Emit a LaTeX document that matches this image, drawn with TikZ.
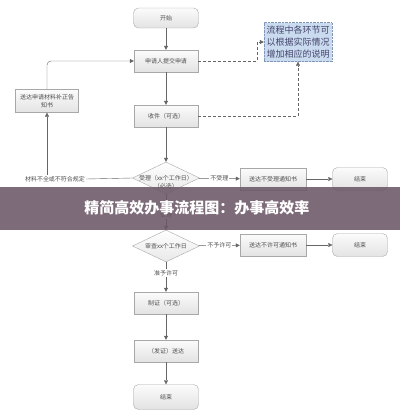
\documentclass[tikz,border=0pt]{standalone}
\usepackage{fontspec}
\setmainfont{Noto Sans CJK SC}
\usetikzlibrary{arrows.meta,shapes.geometric}
\definecolor{edge}{HTML}{666666}
\definecolor{rim}{HTML}{A8A8A8}
\definecolor{ink}{HTML}{505050}
\definecolor{notefill}{HTML}{CADBF0}
\definecolor{noterim}{HTML}{8096B4}
\definecolor{band}{HTML}{6B5766}

\begin{document}
\begin{tikzpicture}[x=1pt,y=-1pt,
	box/.style={draw=rim,top color=white!97!gray,bottom color=gray!22,minimum width=64pt,minimum height=22pt,inner sep=1pt,font=\fontsize{6}{8}\selectfont,text=ink,align=center},
	term/.style={box,rounded corners=5pt,minimum width=55pt,minimum height=23pt},
	decide/.style={diamond,draw=rim,top color=white,bottom color=gray!18,minimum width=67pt,minimum height=32pt,inner sep=0pt,aspect=2.1},
	lbl/.style={font=\fontsize{6}{8}\selectfont,text=ink,fill=white,inner sep=1pt,align=center},
	arr/.style={draw=edge,-{Triangle[length=4pt,width=4pt]}},
	hint/.style={arr,dash pattern=on 3pt off 2pt}]
	\useasboundingbox (0,0) rectangle (400,416);
	\node[term,minimum width=65pt,minimum height=20pt] (e0) at (166,18) {开始};
	\foreach \Y/\T [count=\Z] in {61/申请人提交申请, 116/收件（可选）, 303/制证（可选）, 351/（发证）送达}
	{\node[box] (b\Z) at (166,\Y) {\T};}
	\node[term,minimum width=65pt,minimum height=25pt] (e1) at (166,397) {结束};
	\node[box,minimum width=63pt,minimum height=23pt] (back) at (47,101) {送达申请材料补正告\\知书};
	\node[draw=noterim,densely dotted,fill=notefill,minimum width=68pt,minimum height=39pt,inner sep=2pt,font=\fontsize{9}{12}\selectfont,text=ink!85!blue,align=center] (note) at (298,42) {流程中各环节可\\以根据实际情况\\增加相应的说明};
	\node[decide] (d1) at (166,178) {};
	\node[lbl,fill=none] at (166,182) {受理（xx个工作日）\\（必选）};
	\node[decide] (d2) at (166,246) {};
	\node[lbl,fill=none] at (166,246) {审查xx个工作日};
	\foreach \Y/\T [count=\Z] in {179/送达不受理通知书, 245/送达不许可通知书}
	{\node[box,minimum width=66pt] (r\Z) at (273,\Y) {\T};
	 \node[term] (s\Z) at (360,\Y) {结束};
	 \draw[arr] (r\Z) -- (s\Z);}
	\node[lbl] (fail) at (55,179) {材料不全或不符合规定};
	\node[lbl] (ok1) at (166,215) {受理};
	\node[lbl] (ok2) at (166,273) {准予许可};
	\draw[arr] (e0) -- (b1);
	\draw[arr] (b1) -- (b2);
	\draw[arr] (b2) -- (d1);
	\draw[edge] (d1) -- (ok1);
	\draw[arr] (ok1) -- (d2);
	\draw[edge] (d2) -- (ok2);
	\draw[arr] (ok2) -- (b3);
	\draw[arr] (b3) -- (b4);
	\draw[arr] (b4) -- (e1);
	\draw[arr] (d1) -- node[lbl]{不受理} (r1);
	\draw[arr] (d2) -- node[lbl]{不予许可} (r2);
	\draw[edge] (d1.west) -- (fail.east);
	\draw[arr] (fail.north -| back) -- (back);
	\draw[arr,rounded corners=4pt] (back) |- (b1);
	\draw[hint] (b1.east) -- ++(59,0) |- (note.west);
	\draw[hint] (b2.east) -| (note.south);
	\fill[band,opacity=0.88] (0,187) rectangle (400,230);
	\node[text=white,font=\fontsize{15}{15}\selectfont\bfseries] (title) at (197,208) {精简高效办事流程图：办事高效率};
\end{tikzpicture}
\end{document}
